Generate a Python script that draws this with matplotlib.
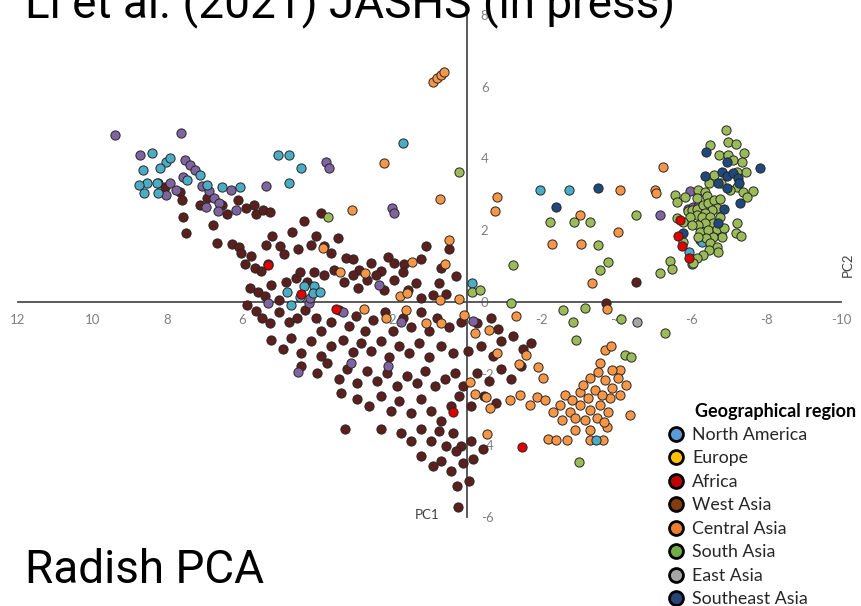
import numpy as np
import matplotlib.pyplot as plt
from matplotlib.lines import Line2D

plt.rcParams['axes.unicode_minus'] = False

# PC1 / PC2 scores per accession group
west_asia = np.array([
    [8.26, 3.32], [8.07, 3.20], [7.67, 3.06], [7.62, 2.84], [7.59, 2.37], [7.51, 1.92],
    [7.14, 2.70], [6.95, 2.90], [6.55, 2.70], [6.42, 2.45], [6.12, 2.84], [5.91, 2.62],
    [5.70, 2.70], [5.64, 2.45], [5.45, 2.56], [5.27, 2.51], [6.79, 2.15], [6.68, 1.64],
    [6.28, 1.62], [6.10, 1.53], [6.04, 1.37], [5.94, 1.06], [5.78, 1.28], [5.67, 0.95],
    [5.51, 0.86], [5.32, 1.06], [5.37, 1.59], [5.21, 1.84], [5.00, 1.56], [4.89, 1.34],
    [4.68, 1.95], [4.52, 1.48], [4.36, 2.26], [4.17, 1.59], [4.04, 1.84], [3.90, 2.48],
    [3.82, 1.56], [3.64, 1.37], [3.45, 1.78], [3.24, 1.23], [3.05, 1.20], [2.89, 0.89],
    [2.57, 1.09], [2.30, 0.86], [2.11, 1.25], [1.95, 1.09], [1.68, 1.06], [1.23, 1.20],
    [1.10, 1.56], [0.48, 1.48], [0.70, 0.95], [0.29, 0.72], [0.75, 0.53],
    [5.80, 0.39], [5.59, 0.28], [5.40, 0.17], [5.24, 0.47], [5.03, 0.06], [4.84, 0.56],
    [4.57, 0.67], [4.47, 0.84], [4.28, 0.56], [4.09, 0.84], [3.82, 0.75], [3.56, 0.89],
    [3.29, 0.56], [3.05, 0.75], [2.91, 0.39], [2.67, 0.61], [2.43, 0.75], [2.22, 0.33],
    [1.95, 0.61], [1.71, 0.84], [1.58, 0.33], [1.36, 0.53], [1.23, 0.11], [0.91, 0.20],
    [0.56, 0.22], [-3.72, -0.03], [-4.52, 0.56],
    [5.88, -0.08], [5.64, -0.25], [5.48, -0.45], [5.27, -0.59], [5.03, -0.28], [4.76, -0.56],
    [4.55, -0.45], [4.33, -0.22], [4.04, -0.45], [3.90, -0.81], [3.64, -0.56], [3.42, -0.22],
    [3.16, -0.67], [2.97, -0.39], [2.73, -0.81], [2.51, -0.50], [2.19, -0.28], [1.98, -0.81],
    [1.71, -0.45], [1.50, -0.70], [1.23, -0.28], [1.02, -0.81], [0.80, -0.45], [0.48, -0.70],
    [0.16, -0.56], [-0.27, -0.59], [-0.64, -0.45], [-0.83, -0.75],
    [5.24, -1.06], [4.92, -1.31], [4.71, -1.00], [4.44, -1.42], [4.17, -1.09], [3.90, -1.50],
    [3.64, -1.23], [3.32, -1.06], [3.05, -1.39], [2.83, -1.14], [2.57, -1.37], [2.30, -1.09],
    [2.09, -1.53], [1.82, -1.23], [1.55, -1.42], [1.28, -1.14], [1.02, -1.53], [0.70, -1.23],
    [0.37, -1.42], [-0.03, -1.37], [-0.37, -1.23], [-0.70, -1.50], [-0.91, -1.09],
    [-1.23, -0.95], [-1.50, -1.31], [-1.71, -1.14],
    [4.44, -1.78], [4.01, -1.98], [3.74, -1.70], [3.42, -2.15], [3.21, -1.87], [2.94, -2.26],
    [2.67, -1.92], [2.41, -2.20], [2.14, -1.98], [1.87, -2.34], [1.60, -2.06], [1.34, -2.26],
    [1.12, -1.92], [0.86, -2.34], [0.59, -2.15], [0.32, -1.98], [0.11, -2.34], [-0.27, -1.98],
    [-0.59, -2.20], [-0.91, -1.87], [-1.18, -2.15], [-1.44, -1.78],
    [3.37, -2.54], [2.94, -2.70], [2.62, -2.90], [2.30, -2.62], [2.03, -3.04], [1.82, -2.76],
    [1.50, -3.09], [1.23, -2.70], [0.96, -3.04], [0.70, -3.32], [0.43, -2.90], [0.21, -2.62],
    [-0.11, -2.90], [-0.45, -2.62], [-0.78, -2.81],
    [3.26, -3.54], [2.30, -3.54], [1.76, -3.65], [1.50, -3.87], [1.23, -3.54], [0.96, -3.87],
    [0.75, -3.59], [0.56, -4.01], [0.37, -3.65], [0.16, -4.01], [-0.11, -3.87], [-0.43, -4.10],
    [1.23, -4.29], [0.91, -4.57], [0.70, -4.43], [0.43, -4.71], [0.29, -4.15], [0.11, -4.49],
    [-0.05, -4.99], [0.27, -5.13], [-0.16, -4.37], [0.24, -5.71],
])

central_asia = np.array([
    [0.91, 6.13], [0.80, 6.24], [0.70, 6.32], [0.62, 6.41],
    [2.22, 3.87], [3.08, 2.56], [3.85, 1.50], [3.40, 0.84], [2.73, 0.81], [1.47, 1.11],
    [0.72, 2.87], [-0.80, 2.93], [-0.75, 2.54], [-2.27, 1.62], [-3.02, 2.42], [-3.05, 1.62],
    [-4.09, 3.12], [-4.04, 1.95], [-5.03, 3.12], [-5.24, 3.76], [-5.05, 3.04],
    [0.48, 1.73], [0.59, 1.06], [1.79, 0.17], [1.60, 0.25], [2.75, -0.20], [0.21, 0.08],
    [0.70, -0.59], [1.10, -0.59], [0.08, -0.36], [-0.21, -0.86], [-0.59, -0.78],
    [-0.80, -1.42], [-1.31, -0.39], [-3.34, 0.53], [-3.74, -0.20], [2.17, -0.45],
    [1.63, -0.22], [0.72, 0.06],
    [-0.08, -2.23], [-0.21, -2.56], [-0.51, -2.65], [-0.61, -2.95], [-1.39, -1.73],
    [-1.58, -1.48], [-1.90, -1.81], [-2.03, -2.12], [-1.87, -2.65], [-0.53, -3.68],
    [-2.17, -3.82], [-2.38, -3.84], [-2.67, -3.84], [-2.89, -3.57], [-3.29, -3.57],
    [-3.74, -3.48], [-3.69, -1.34], [-3.85, -1.23], [-3.56, -1.70], [-4.09, -1.89],
    [-4.25, -2.31], [-3.82, -2.67],
    [-2.62, -2.59], [-2.81, -2.73], [-3.02, -2.51], [-3.24, -2.67], [-3.42, -2.45],
    [-3.61, -2.59], [-3.88, -2.40], [-4.04, -2.12], [-3.02, -2.87], [-3.29, -3.01],
    [-3.56, -2.87], [-3.77, -3.06], [-2.75, -3.06], [-2.49, -2.87], [-2.30, -3.06],
    [-2.54, -3.29], [-2.89, -3.23], [-3.16, -3.29], [-3.48, -3.23], [-3.66, -3.34],
    [-3.10, -2.31], [-3.29, -2.12], [-3.50, -1.95], [-3.69, -2.17], [-3.88, -1.89],
    [-4.09, -2.59], [-2.09, -2.73], [-1.68, -2.87], [-1.42, -2.59], [-1.15, -2.73],
    [-3.29, -3.84], [-3.64, -3.84], [-4.36, -3.15],
])

unassigned = np.array([
    [9.41, 4.65], [7.65, 4.71], [8.74, 4.10], [7.54, 3.96], [7.41, 3.82], [7.27, 3.68],
    [7.59, 3.48], [7.94, 3.32], [7.78, 3.12], [8.05, 2.98], [7.09, 3.23], [6.90, 3.09],
    [6.77, 2.90], [6.63, 2.76], [6.31, 3.12], [6.98, 2.65], [6.66, 2.54], [6.18, 2.56],
    [5.37, 3.23], [3.77, 3.90], [3.69, 3.73], [2.01, 2.62], [1.95, 2.48],
    [4.52, -1.95], [3.10, -1.70], [2.11, -1.78], [-0.16, -0.53],
    [5.32, -0.03], [4.22, -0.03], [4.20, 0.11], [2.35, 0.47], [3.31, -0.28], [1.76, -0.56],
    [-5.96, 3.09], [-5.91, 2.59], [-6.04, 2.65], [-6.18, 2.67], [-5.16, 2.42],
])

north_america = np.array([
    [8.42, 4.15], [8.05, 3.90], [7.94, 4.01], [8.66, 3.68], [8.21, 3.73], [8.56, 3.32],
    [8.29, 3.32], [8.77, 3.26], [8.64, 3.04], [8.26, 3.04], [7.49, 3.40], [7.14, 3.54],
    [6.95, 3.26], [6.55, 3.20], [6.07, 3.20], [5.05, 4.10], [4.76, 4.10], [4.76, 3.32],
    [4.44, 3.73], [1.71, 4.43], [-1.95, 3.12], [-2.73, 3.12],
    [4.81, 0.28], [4.36, 0.45], [4.09, 0.45], [4.12, 0.25], [4.47, 0.14], [4.71, -0.08],
    [3.93, 0.28], [-0.13, 0.53], [-3.45, -3.84],
    [-6.79, 1.92], [-6.23, 1.73], [-6.28, 1.67], [-5.94, 1.39], [-6.02, 1.06],
])

south_asia = np.array([
    [0.21, 3.62], [3.72, 2.37], [-0.13, 0.28], [-0.35, 0.33], [-1.23, 1.03], [-1.18, -0.03],
    [-2.22, 2.23], [-2.86, 2.23], [-3.29, 2.23], [-2.57, -0.22], [-3.16, -0.17],
    [-2.83, -0.56], [-2.91, -1.06], [-3.77, 1.11], [-3.50, 1.59], [-3.56, 0.89],
    [-4.12, -0.47], [-4.22, -1.48], [-4.39, -1.53], [-5.43, 1.14], [-5.48, 0.92],
    [-5.16, 0.81], [-5.30, -0.86], [-3.00, -4.46], [-4.52, 2.42],
    [-6.93, 4.79], [-6.50, 4.37], [-6.98, 4.46], [-7.19, 4.40], [-7.41, 4.15], [-6.74, 4.10],
    [-6.98, 4.10], [-7.11, 3.96], [-7.35, 3.90], [-7.46, 3.62], [-7.22, 3.62], [-6.61, 3.54],
    [-6.47, 3.32], [-6.79, 3.32], [-7.22, 3.20], [-7.03, 3.12], [-7.38, 3.06], [-7.65, 3.09],
    [-7.49, 2.93], [-5.56, 2.98], [-5.62, 2.79], [-5.83, 2.93], [-6.18, 3.12], [-6.36, 3.06],
    [-6.42, 2.95], [-6.15, 2.90], [-5.91, 2.54], [-6.02, 2.56], [-6.15, 2.59], [-6.31, 2.70],
    [-6.44, 2.76], [-6.61, 2.84], [-6.77, 2.87], [-6.69, 2.62], [-6.55, 2.56], [-6.36, 2.48],
    [-6.15, 2.42], [-5.96, 2.37], [-5.62, 2.34], [-5.78, 2.23], [-6.28, 2.37], [-6.50, 2.37],
    [-6.77, 2.37], [-6.58, 2.20], [-6.36, 2.20], [-6.18, 2.15], [-6.02, 2.15], [-6.23, 1.95],
    [-6.44, 2.01], [-6.69, 2.03], [-6.87, 2.06], [-6.82, 1.81], [-6.58, 1.81], [-6.39, 1.78],
    [-6.18, 1.81], [-6.50, 1.64], [-6.69, 1.53], [-6.71, 1.39], [-6.47, 1.45], [-6.31, 1.31],
    [-6.15, 1.23], [-6.04, 1.09], [-7.22, 2.20], [-7.19, 1.92], [-7.33, 1.84], [-5.78, 1.67],
])

southeast_asia = np.array([
    [-6.39, 4.18], [-6.95, 3.90], [-6.82, 3.62], [-6.95, 3.51], [-6.36, 3.51], [-6.71, 3.32],
    [-7.11, 3.59], [-7.25, 3.45], [-7.27, 3.32], [-6.95, 3.18], [-7.84, 3.73], [-7.30, 2.76],
    [-6.87, 2.59], [-6.71, 2.20], [-5.78, 1.92], [-3.50, 3.18], [-2.38, 2.65],
])

africa = np.array([
    [4.44, 0.22], [3.50, -0.20], [0.37, -3.06], [-1.47, -4.04], [5.32, 1.03],
    [-5.70, 2.28], [-5.64, 1.84], [-5.75, 1.56], [-5.94, 1.23],
])

east_asia = np.array([[-4.55, -0.56]])

legend_labels = ['North America', 'Europe', 'Africa', 'West Asia', 'Central Asia',
                 'South Asia', 'East Asia', 'Southeast Asia']
legend_colors = ['#5b9bd5', '#ffc000', '#c00000', '#843c0c', '#ed7d31',
                 '#70ad47', '#a5a5a5', '#264478']

x_ticks = list(range(12, -11, -2))
y_ticks = list(range(-6, 9, 2))

fig = plt.figure(figsize=(8.61, 6.06), dpi=100)
ax = fig.add_axes([0.0209, 0.1469, 0.9559, 0.8283])

groups = [
    (west_asia, '#5c1f1d'),
    (central_asia, '#f79646'),
    (unassigned, '#8064a2'),
    (north_america, '#4bacc6'),
    (south_asia, '#9bbb59'),
    (southeast_asia, '#1f497d'),
    (africa, '#e00000'),
    (east_asia, '#a6a6a6'),
]
for pts, col in groups:
    ax.scatter(pts[:, 0], pts[:, 1], s=44, c=col, edgecolors='#262626',
               linewidths=0.7, zorder=3)

ax.set_xlim(12, -10)
ax.set_ylim(-6, 8)
ax.set_xticks(x_ticks)
ax.set_yticks(y_ticks)

# axes cross at the origin, y labels sit to the right of the vertical axis
ax.spines['bottom'].set_position(('data', 0))
ax.spines['right'].set_position(('data', 0))
ax.spines['top'].set_visible(False)
ax.spines['left'].set_visible(False)
for side in ['bottom', 'right']:
    ax.spines[side].set_color('#4d4d4d')
    ax.spines[side].set_linewidth(1.3)
    ax.spines[side].set_zorder(2)
ax.yaxis.tick_right()
ax.tick_params(axis='x', length=0, pad=9, labelsize=9.5, labelcolor='#808080')
ax.tick_params(axis='y', length=0, pad=10, labelsize=9.5, labelcolor='#808080')
for lab in ax.get_xticklabels() + ax.get_yticklabels():
    lab.set_family('Lato')
ax.patch.set_alpha(0)

fig.text(427 / 861, 1 - 515 / 606, 'PC1', ha='center', va='center',
         fontsize=9.5, color='#404040', family='Lato')
fig.text(848 / 861, 1 - 265 / 606, 'PC2', ha='center', va='center', rotation=90,
         fontsize=9.5, color='#404040', family='Lato')

fig.text(25 / 861, 1 - 17 / 606, 'Li et al. (2021) JASHS (in press)', ha='left',
         va='baseline', fontsize=33, family='Roboto')
fig.text(25 / 861, 1 - 583 / 606, 'Radish PCA', ha='left', va='baseline',
         fontsize=33, family='Roboto')

# legend
fig.text(695 / 861, 1 - 411 / 606, 'Geographical region', ha='left', va='center',
         fontsize=13, fontweight='bold', family='Lato')
handles = [Line2D([], [], marker='o', linestyle='none', markersize=10,
                  markerfacecolor=c, markeredgecolor='black', markeredgewidth=2)
           for c in legend_colors]
fig.legend(handles, legend_labels, loc='upper left',
           bbox_to_anchor=(667 / 861, 1 - 427 / 606), frameon=False,
           prop={'family': 'Lato', 'size': 12.8}, labelcolor='#262626',
           handlelength=1.0, handletextpad=0.4, labelspacing=0.42, borderpad=0,
           borderaxespad=0)

fig.savefig('out.png', dpi=100)
